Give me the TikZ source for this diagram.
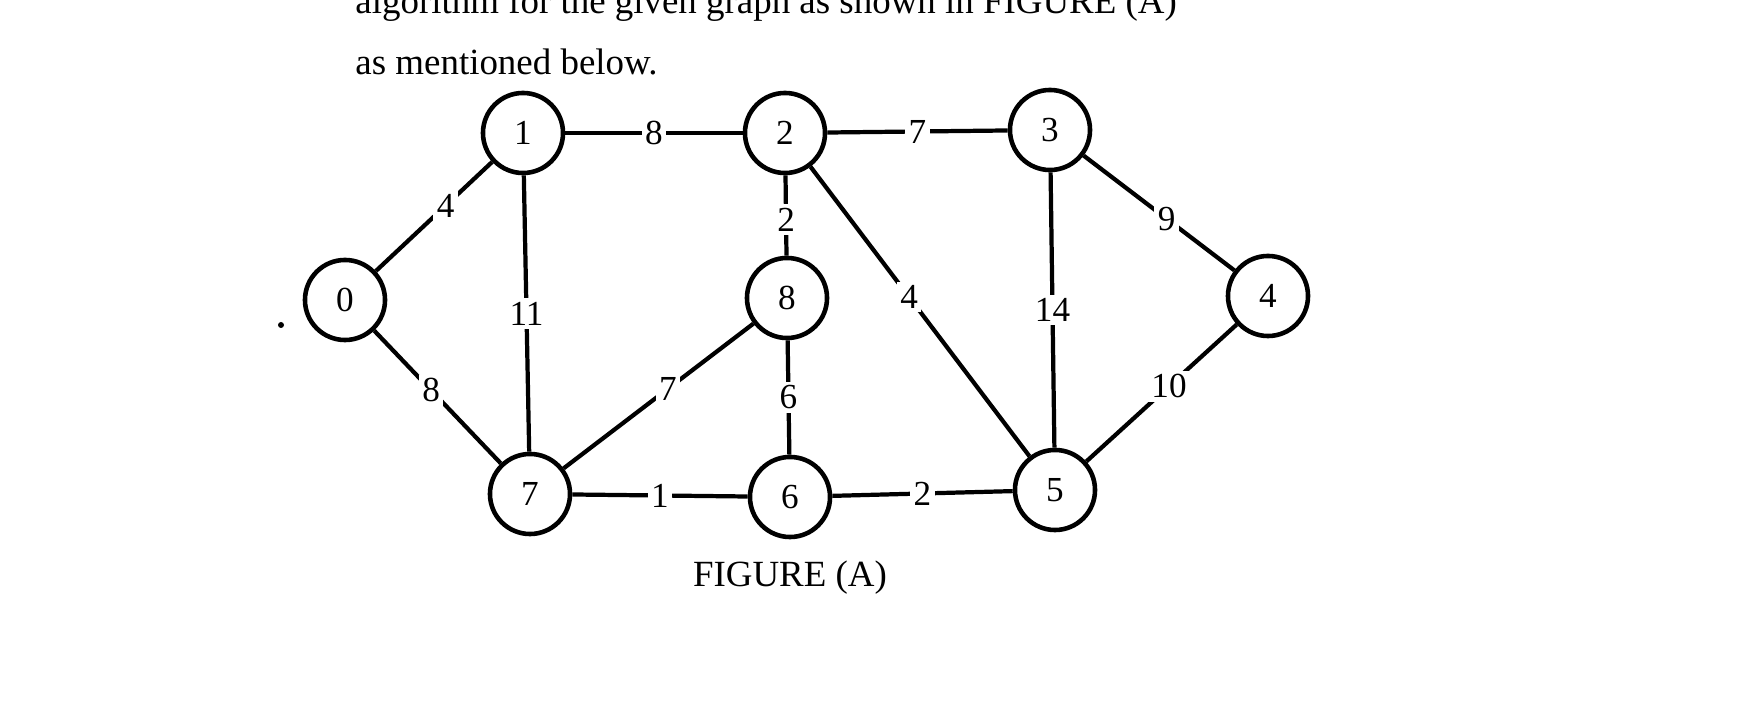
\documentclass[tikz,border=0pt]{standalone}
\usepackage{fontspec}
\setmainfont{Liberation Serif}
\begin{document}
\begin{tikzpicture}[x=0.01cm,y=-0.01cm,
 v/.style={circle,draw,line width=1.3pt,minimum size=0.8cm,inner sep=0pt,font=\fontsize{10}{12}\selectfont},
 e/.style={line width=1.2pt},
 w/.style={fill=white,inner sep=1pt,font=\fontsize{10}{12}\selectfont}]
\useasboundingbox (0,0) rectangle (1754,719);
\clip (0,0) rectangle (1754,719);
\node[anchor=base west,font=\fontsize{10.5}{12}\selectfont] (t0) at (343,14) {algorithm for the given graph as shown in FIGURE (A)};
\node[anchor=base west,font=\fontsize{10.5}{12}\selectfont] (t1) at (343,75) {as mentioned below.};
\node[v] (n0) at (345,300) {0};
\node[v] (n1) at (523,133) {1};
\node[v] (n2) at (785,133) {2};
\node[v] (n3) at (1050,130) {3};
\node[v] (n4) at (1268,296) {4};
\node[v] (n5) at (1055,490) {5};
\node[v] (n6) at (790,497) {6};
\node[v] (n7) at (530,494) {7};
\node[v] (n8) at (787,298) {8};
\fill (281,325) circle (3);
\draw[e] (n1) -- node[w]{8} (n2);
\draw[e] (n2) -- node[w]{7} (n3);
\draw[e] (n0) -- node[w,pos=0.6]{4} (n1);
\draw[e] (n0) -- node[w,pos=0.45]{8} (n7);
\draw[e] (n1) -- node[w,pos=0.5]{11} (n7);
\draw[e] (n7) -- node[w,pos=0.55]{7} (n8);
\draw[e] (n2) -- node[w,pos=0.55]{2} (n8);
\draw[e] (n8) -- node[w]{6} (n6);
\draw[e] (n2) -- node[w,pos=0.45]{4} (n5);
\draw[e] (n3) -- node[w,pos=0.5]{14} (n5);
\draw[e] (n3) -- node[w,pos=0.55]{9} (n4);
\draw[e] (n4) -- node[w,pos=0.45]{10} (n5);
\draw[e] (n7) -- node[w]{1} (n6);
\draw[e] (n6) -- node[w]{2} (n5);
\node[font=\fontsize{10.5}{12}\selectfont] (cap) at (790,578) {FIGURE (A)};
\end{tikzpicture}
\end{document}
